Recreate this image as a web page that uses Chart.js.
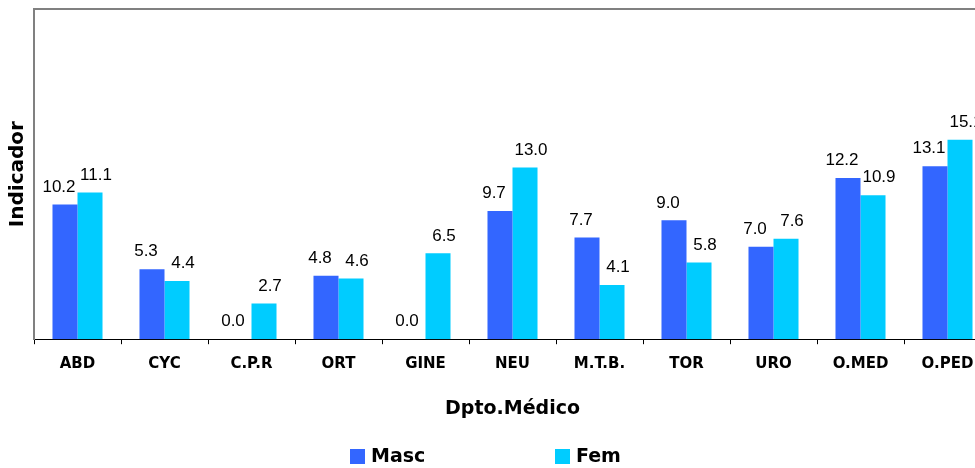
<!DOCTYPE html>
<html>
<head>
<meta charset="utf-8">
<script src="https://cdn.jsdelivr.net/npm/chart.js@4"></script>
<style>
  html, body { margin: 0; padding: 0; overflow: hidden; background: #fff; }
  #wrap { position: relative; width: 975px; height: 468px; overflow: hidden; }
  #legend { position: absolute; top: 444px; left: 0; width: 975px; height: 24px;
            font: bold 19px "DejaVu Sans", Verdana, sans-serif; color: #000; }
  .item { position: absolute; top: 0; display: flex; align-items: center; }
  .box { width: 15px; height: 15px; margin-right: 6px; margin-top: 3px; }
</style>
</head>
<body>
<div id="wrap">
  <canvas id="chart" width="1000" height="468"></canvas>
  <div id="legend"></div>
</div>
<script>
// values
const categories = ["ABD", "CYC", "C.P.R", "ORT", "GINE", "NEU", "M.T.B.", "TOR", "URO", "O.MED", "O.PED"];
const masc = [10.2, 5.3, 0.0, 4.8, 0.0, 9.7, 7.7, 9.0, 7.0, 12.2, 13.1];
const fem = [11.1, 4.4, 2.7, 4.6, 6.5, 13.0, 4.1, 5.8, 7.6, 10.9, 15.1];
const seriesNames = ["Masc", "Fem"];
const seriesColors = ["#3366FF", "#00CCFF"];

// top border of the plot area
const frameLine = {
  id: "frameLine",
  afterDraw(chart) {
    const { ctx, chartArea } = chart;
    ctx.save();
    ctx.strokeStyle = "#808080";
    ctx.lineWidth = 2;
    ctx.beginPath();
    ctx.moveTo(chartArea.left - 1, chartArea.top);
    ctx.lineTo(chartArea.right, chartArea.top);
    ctx.stroke();
    ctx.restore();
  }
};

// value labels over each bar
const valueLabels = {
  id: "valueLabels",
  afterDatasetsDraw(chart) {
    const ctx = chart.ctx;
    ctx.save();
    ctx.font = '17px "Liberation Sans", Arial, sans-serif';
    ctx.fillStyle = "#000";
    ctx.textAlign = "center";
    ctx.textBaseline = "bottom";
    chart.data.datasets.forEach((ds, i) => {
      const meta = chart.getDatasetMeta(i);
      const shift = i === 0 ? -6 : 6;
      meta.data.forEach((bar, j) => {
        ctx.fillText(ds.data[j].toFixed(1), bar.x + shift, bar.y - 9);
      });
    });
    ctx.restore();
  }
};

const chart = new Chart(document.getElementById("chart"), {
  type: "bar",
  data: {
    labels: categories,
    datasets: [
      { label: seriesNames[0], data: masc, backgroundColor: seriesColors[0] },
      { label: seriesNames[1], data: fem, backgroundColor: seriesColors[1] }
    ]
  },
  options: {
    responsive: false,
    animation: false,
    categoryPercentage: 0.575,
    barPercentage: 1,
    layout: { padding: { left: 0, top: 9, right: 9, bottom: 48 } },
    plugins: { legend: { display: false }, tooltip: { enabled: false } },
    scales: {
      x: {
        grid: { drawOnChartArea: false, drawTicks: true, tickLength: 5, tickColor: "#000", offset: true },
        border: { color: "#000", width: 1 },
        ticks: { color: "#000", padding: 11, font: { family: "DejaVu Sans", size: 15, weight: "bold" } },
        title: { display: true, text: "Dpto.Médico", color: "#000", padding: { top: 13, bottom: 0 },
                 font: { family: "DejaVu Sans", size: 19, weight: "bold" } }
      },
      y: {
        min: 0,
        max: 25,
        grid: { display: false },
        border: { color: "#808080", width: 2 },
        ticks: { display: false },
        afterFit(scale) { scale.width = 34; },
        title: { display: true, text: "Indicador", color: "#000", padding: { top: 6, bottom: 4 },
                 font: { family: "DejaVu Sans", size: 20, weight: "bold" } }
      }
    }
  },
  plugins: [frameLine, valueLabels]
});

// legend drawn under the chart
const legend = document.getElementById("legend");
const legendX = [350, 555];
seriesNames.forEach((name, i) => {
  const item = document.createElement("div");
  item.className = "item";
  item.style.left = legendX[i] + "px";
  item.innerHTML = '<div class="box" style="background:' + seriesColors[i] + '"></div><span>' + name + '</span>';
  legend.appendChild(item);
});
</script>
</body>
</html>
